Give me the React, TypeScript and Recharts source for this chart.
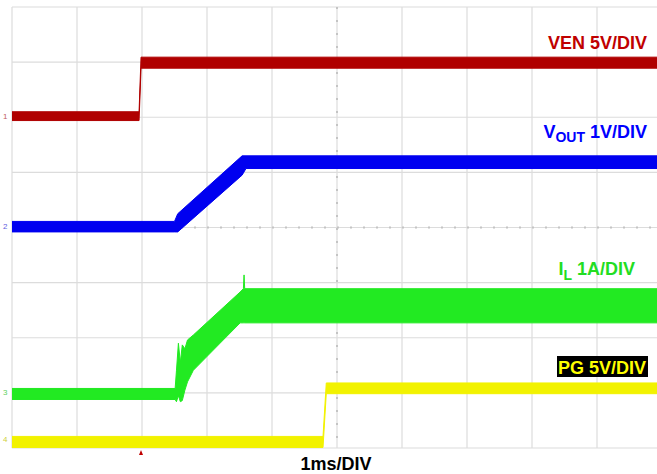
import React from "react";
import {
  Area, CartesianGrid, ComposedChart, XAxis, YAxis
} from "recharts";

// time in divisions (1ms/DIV), traces in screen divisions from the bottom
const venT = [0, 1.955, 1.985, 10];
const venLo = [5.94, 5.94, 6.89, 6.89];
const venHi = [6.1, 6.1, 7.09, 7.09];

const voutT = [0, 2.5, 2.55, 3.54, 3.6, 10];
const voutLo = [3.92, 3.92, 3.92, 4.95, 5.07, 5.07];
const voutHi = [4.11, 4.11, 4.25, 5.3, 5.3, 5.3];

const ilT = [0, 2.51, 2.53, 2.56, 2.59, 2.62, 2.66, 2.7, 2.79, 3.51, 3.56, 3.57, 3.58, 10];
const ilLo = [0.88, 0.88, 0.84, 0.95, 0.84, 0.86, 1.05, 1.2, 1.41, 2.27, 2.27, 2.27, 2.27, 2.27];
const ilHi = [1.08, 1.08, 1.4, 1.9, 1.55, 1.87, 1.8, 1.96, 2.05, 2.83, 2.89, 3.14, 2.89, 2.89];

const pgT = [0, 4.785, 4.835, 10];
const pgLo = [0.01, 0.01, 0.985, 0.985];
const pgHi = [0.21, 0.21, 1.18, 1.18];

const xTicks = [0, 1, 2, 3, 4, 5, 6, 7, 8, 9, 10];
const yTicks = [0, 1, 2, 3, 4, 5, 6, 7, 8];
const xMax = 10;
const yMax = 8;
const xCenter = 5;
const yCenter = 4;

const toBand = (t: number[], lo: number[], hi: number[]) =>
  t.map((x, i) => ({ t: x, band: [lo[i], hi[i]] }));

const traces = [
  { name: "VEN", color: "#b00000", data: toBand(venT, venLo, venHi) },
  { name: "VOUT", color: "#0000f0", data: toBand(voutT, voutLo, voutHi) },
  { name: "IL", color: "#22ea22", data: toBand(ilT, ilLo, ilHi) },
  { name: "PG", color: "#f2f200", data: toBand(pgT, pgLo, pgHi) },
];

const font = "'Liberation Sans', Arial, sans-serif";

// center graticule lines, drawn under the traces
const centerH = (p: any) => {
  const o = p && p.offset;
  if (!o) return [];
  return [o.top + o.height * (1 - yCenter / yMax)];
};
const centerV = (p: any) => {
  const o = p && p.offset;
  if (!o) return [];
  return [o.left + o.width * (xCenter / xMax)];
};

export default function App() {
  return (
    <div style={{ position: "absolute", left: 0, top: 0, width: 657, height: 474, overflow: "hidden", background: "#fff" }}>
      <ComposedChart width={662} height={474} margin={{ top: 7, right: 0, left: 12, bottom: 26 }}>
        <CartesianGrid stroke="#dcdcdc" strokeWidth={1.2} />
        <CartesianGrid
          stroke="#c4c4c4"
          strokeWidth={2}
          strokeDasharray="2 11"
          horizontalCoordinatesGenerator={centerH}
          verticalCoordinatesGenerator={centerV}
        />
        <XAxis type="number" dataKey="t" domain={[0, xMax]} ticks={xTicks} hide allowDuplicatedCategory={false} />
        <YAxis type="number" domain={[0, yMax]} ticks={yTicks} hide />
        {traces.map((s) => (
          <Area
            key={s.name}
            data={s.data}
            dataKey="band"
            type="linear"
            stroke={s.color}
            strokeWidth={1}
            fill={s.color}
            fillOpacity={1}
            dot={false}
            activeDot={false}
            isAnimationActive={false}
          />
        ))}
      </ComposedChart>
      <svg width={657} height={474} style={{ position: "absolute", left: 0, top: 0, pointerEvents: "none" }}>
        <g fontFamily={font} fontWeight="bold" fontSize={18}>
          <text x={647} y={49} textAnchor="end" fill="#c00000">VEN 5V/DIV</text>
          <text x={647} y={138} textAnchor="end" fill="#0000ff">
            V<tspan dy={4} fontSize={14}>OUT</tspan><tspan dy={-4}> 1V/DIV</tspan>
          </text>
          <text x={635} y={275} textAnchor="end" fill="#22dd22">
            I<tspan dy={5} fontSize={14}>L</tspan><tspan dy={-5}> 1A/DIV</tspan>
          </text>
          <rect x={557} y={356} width={91} height={21} fill="#000" />
          <text x={646} y={374} textAnchor="end" fill="#ffff00">PG 5V/DIV</text>
          <text x={336} y={470} textAnchor="middle" fill="#000">1ms/DIV</text>
        </g>
        <path d="M139 455 L143 455 L141 450 Z" fill="#c00000" />
        <g fontFamily={font} fontSize={8}>
          <text x={3} y={119} fill="#c06060">1</text>
          <text x={3} y={229} fill="#6060e0">2</text>
          <text x={3} y={395} fill="#60d060">3</text>
          <text x={3} y={442} fill="#d0d040">4</text>
        </g>
      </svg>
    </div>
  );
}
